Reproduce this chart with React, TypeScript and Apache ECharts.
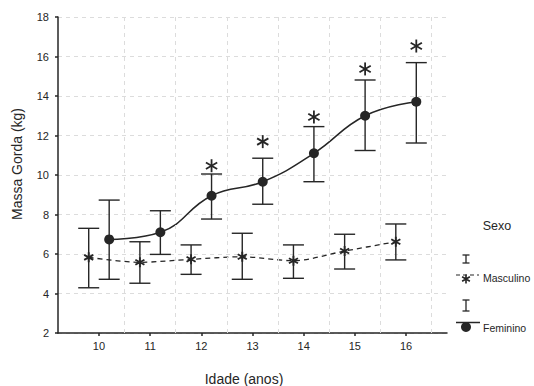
import React, { useEffect, useRef } from "react";
import * as echarts from "echarts";

const ages = [10, 11, 12, 13, 14, 15, 16];
const mascMean = [5.83, 5.58, 5.73, 5.86, 5.66, 6.15, 6.62];
const mascHigh = [7.3, 6.62, 6.46, 7.05, 6.46, 7.0, 7.52];
const mascLow = [4.29, 4.52, 4.97, 4.72, 4.77, 5.24, 5.7];
const femMean = [6.74, 7.1, 8.95, 9.66, 11.1, 13.0, 13.71];
const femHigh = [8.73, 8.19, 10.05, 10.85, 12.45, 14.81, 15.69];
const femLow = [4.72, 5.98, 7.77, 8.52, 9.66, 11.24, 11.62];
const sigMark: (number | null)[] = [null, null, 10.47, 11.69, 12.94, 15.37, 16.53];
const yTicks = { min: 2, max: 18, interval: 2 };

const OFF = 0.2;
const INK = "#262626";
const FONT = "'Liberation Sans', Arial, sans-serif";
const STAR_D =
  "M-0.9,-5L0.9,-5L0.9,5L-0.9,5Z M3.88,3.28L-4.78,-1.72L-3.88,-3.28L4.78,1.72Z M-4.78,1.72L3.88,-3.28L4.78,-1.72L-3.88,3.28Z";

let registered = false;
function registerStar() {
  if (registered) return;
  registered = true;
  echarts.graphic.registerShape("astk", (echarts.graphic as any).extendPath(STAR_D, {}));
}

function errRender(withSig: boolean) {
  return (params: any, api: any) => {
    const x = api.value(0);
    const lo = api.value(1);
    const hi = api.value(2);
    const pLo = api.coord([x, lo]);
    const pHi = api.coord([x, hi]);
    const w = 10.5;
    const style = { stroke: INK, lineWidth: 1.4 };
    const children: any[] = [
      { type: "line", shape: { x1: pHi[0], y1: pHi[1], x2: pLo[0], y2: pLo[1] }, style },
      { type: "line", shape: { x1: pHi[0] - w, y1: pHi[1], x2: pHi[0] + w, y2: pHi[1] }, style },
      { type: "line", shape: { x1: pLo[0] - w, y1: pLo[1], x2: pLo[0] + w, y2: pLo[1] }, style },
    ];
    if (withSig) {
      const s = sigMark[params.dataIndex];
      if (s != null) {
        const c = api.coord([x, s]);
        const r = 6.5;
        const st = { stroke: INK, lineWidth: 1.8 };
        const dx = r * Math.cos(Math.PI / 6);
        const dy = r * Math.sin(Math.PI / 6);
        children.push(
          { type: "line", shape: { x1: c[0], y1: c[1] - r, x2: c[0], y2: c[1] + r }, style: st },
          { type: "line", shape: { x1: c[0] - dx, y1: c[1] - dy, x2: c[0] + dx, y2: c[1] + dy }, style: st },
          { type: "line", shape: { x1: c[0] - dx, y1: c[1] + dy, x2: c[0] + dx, y2: c[1] - dy }, style: st }
        );
      }
    }
    return { type: "group", children };
  };
}

export default function App() {
  const ref = useRef<HTMLDivElement>(null);
  useEffect(() => {
    registerStar();
    const chart = echarts.init(ref.current!, null, { renderer: "svg" });
    const axisLineStyle = { color: INK, width: 1.5 };
    const lgX = 466;
    chart.setOption({
      animation: false,
      backgroundColor: "#ffffff",
      textStyle: { fontFamily: FONT },
      grid: { left: 58, right: 87, top: 17, bottom: 53, containLabel: false },
      xAxis: {
        type: "value",
        min: 9.2,
        max: 16.8,
        axisLine: { show: true, onZero: false, lineStyle: axisLineStyle },
        axisTick: { show: true, customValues: ages, length: 3, lineStyle: axisLineStyle },
        axisLabel: { customValues: ages, fontSize: 11, color: INK, margin: 7, fontFamily: FONT },
        splitLine: { show: false },
      },
      yAxis: {
        type: "value",
        min: yTicks.min,
        max: yTicks.max,
        interval: yTicks.interval,
        axisLine: { show: true, lineStyle: axisLineStyle },
        axisTick: { show: true, length: 3, lineStyle: axisLineStyle },
        axisLabel: { fontSize: 11, color: INK, margin: 9, fontFamily: FONT },
        splitLine: { show: true, lineStyle: { color: "#dcdcdc", type: [4, 4], width: 1 } },
      },
      series: [
        {
          type: "custom",
          name: "mascErr",
          z: 1,
          data: ages.map((a, i) => [a - OFF, mascLow[i], mascHigh[i]]),
          encode: { x: 0, y: [1, 2] },
          renderItem: errRender(false),
          silent: true,
        },
        {
          type: "custom",
          name: "femErr",
          z: 1,
          data: ages.map((a, i) => [a + OFF, femLow[i], femHigh[i]]),
          encode: { x: 0, y: [1, 2] },
          renderItem: errRender(true),
          silent: true,
        },
        {
          type: "line",
          name: "Masculino",
          z: 3,
          smooth: 0.3,
          data: ages.map((a, i) => [a - OFF, mascMean[i]]),
          symbol: "path://" + STAR_D,
          symbolSize: 10,
          itemStyle: { color: INK },
          lineStyle: { color: INK, width: 1.3, type: [5, 4] },
          markLine: {
            silent: true,
            symbol: "none",
            label: { show: false },
            lineStyle: { color: "#dcdcdc", type: [4, 4], width: 1 },
            data: ages.map((a) => ({ xAxis: a + 0.5 })),
          },
        },
        {
          type: "line",
          name: "Feminino",
          z: 4,
          smooth: 0.45,
          data: ages.map((a, i) => [a + OFF, femMean[i]]),
          symbol: "circle",
          symbolSize: 10,
          itemStyle: { color: INK },
          lineStyle: { color: INK, width: 1.5 },
        },
      ],
      graphic: [
        {
          type: "text",
          x: 17,
          y: 164,
          rotation: Math.PI / 2,
          style: { text: "Massa Gorda (kg)", fontSize: 14, fontFamily: FONT, fill: INK, align: "center", verticalAlign: "middle" },
        },
        {
          type: "text",
          x: 244,
          y: 379,
          style: { text: "Idade (anos)", fontSize: 14, fontFamily: FONT, fill: INK, align: "center", verticalAlign: "middle" },
        },
        {
          type: "text",
          x: 497,
          y: 226,
          style: { text: "Sexo", fontSize: 12.5, fontFamily: FONT, fill: INK, align: "center", verticalAlign: "middle" },
        },
        { type: "line", shape: { x1: lgX, y1: 255, x2: lgX, y2: 263 }, style: { stroke: INK, lineWidth: 1.3 } },
        { type: "line", shape: { x1: lgX - 3.5, y1: 255, x2: lgX + 3.5, y2: 255 }, style: { stroke: INK, lineWidth: 1.3 } },
        { type: "line", shape: { x1: lgX - 3.5, y1: 263, x2: lgX + 3.5, y2: 263 }, style: { stroke: INK, lineWidth: 1.3 } },
        { type: "line", shape: { x1: 456, y1: 275, x2: 479, y2: 275 }, style: { stroke: INK, lineWidth: 1.2, lineDash: [4, 3] } },
        { type: "astk", x: lgX, y: 279, scaleX: 0.9, scaleY: 0.9, style: { fill: INK } },
        {
          type: "text",
          x: 483,
          y: 278,
          style: { text: "Masculino", fontSize: 10.5, fontFamily: FONT, fill: INK, align: "left", verticalAlign: "middle" },
        },
        { type: "line", shape: { x1: lgX, y1: 300, x2: lgX, y2: 311 }, style: { stroke: INK, lineWidth: 1.3 } },
        { type: "line", shape: { x1: lgX - 3.5, y1: 300, x2: lgX + 3.5, y2: 300 }, style: { stroke: INK, lineWidth: 1.3 } },
        { type: "line", shape: { x1: lgX - 3.5, y1: 311, x2: lgX + 3.5, y2: 311 }, style: { stroke: INK, lineWidth: 1.3 } },
        { type: "line", shape: { x1: 456, y1: 322.5, x2: 480, y2: 322.5 }, style: { stroke: INK, lineWidth: 1.5 } },
        { type: "circle", shape: { cx: lgX, cy: 327, r: 5 }, style: { fill: INK } },
        {
          type: "text",
          x: 483,
          y: 328,
          style: { text: "Feminino", fontSize: 10.5, fontFamily: FONT, fill: INK, align: "left", verticalAlign: "middle" },
        },
      ],
    });
    return () => chart.dispose();
  }, []);
  return <div ref={ref} style={{ position: "fixed", left: 0, top: 0, width: 534, height: 386 }} />;
}
